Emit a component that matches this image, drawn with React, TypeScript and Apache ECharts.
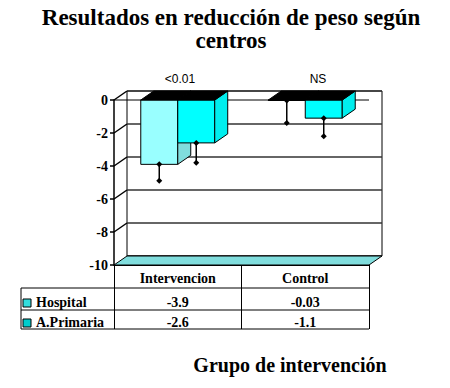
import React, { useEffect, useRef } from "react";
import * as echarts from "echarts";

const categories = ["Intervencion", "Control"];
const seriesNames = ["Hospital", "A.Primaria"];
const hospital = [-3.9, -0.03];
const primaria = [-2.6, -1.1];
const hospitalErr = [-4.9, -1.4];
const primariaErr = [-3.8, -2.2];
const pLabels = ["<0.01", "NS"];
const yTicks = [0, -2, -4, -6, -8, -10];

const DX = 13;
const DY = -9;
const SERIF = "Liberation Serif";
const SANS = "Liberation Sans";
const FRONT = ["#99FFFF", "#00FFFF"];
const SIDE = ["#80DDDD", "#00EEEE"];
const LEGEND = ["#33DDDD", "#00CCCC"];
const FLOOR = "#80DDDD";
const BAR_FRAC = 0.29;
const ROW_Y = [302, 322];

export default function App() {
  const ref = useRef<HTMLDivElement>(null);
  useEffect(() => {
    const chart = echarts.init(ref.current!, null, { renderer: "svg" });
    const values = [hospital, primaria];
    const errs = [hospitalErr, primariaErr];

    const barRender = (s: number) => (params: any, api: any) => {
      const cat = api.value(0);
      const v = api.value(1);
      const band = api.size([1, 0])[0];
      const bw = band * BAR_FRAC;
      const c0 = api.coord([cat, 0]);
      const c1 = api.coord([cat, v]);
      const xl = s === 0 ? c0[0] - bw : c0[0];
      const xr = xl + bw;
      const yt = c0[1];
      const yb = Math.max(c1[1], yt + 0.5);
      return {
        type: "group",
        children: [
          { type: "rect", shape: { x: xl, y: yt, width: bw, height: yb - yt }, style: { fill: FRONT[s], stroke: "#000", lineWidth: 1 } },
          { type: "polygon", shape: { points: [[xr, yt], [xr + DX, yt + DY], [xr + DX, yb + DY], [xr, yb]] }, style: { fill: SIDE[s], stroke: "#000", lineWidth: 1 } },
          { type: "polygon", shape: { points: [[xl, yt], [xr, yt], [xr + DX, yt + DY], [xl + DX, yt + DY]] }, style: { fill: "#000", stroke: "#000", lineWidth: 1 } },
        ],
      };
    };

    const errRender = (s: number) => (params: any, api: any) => {
      const cat = api.value(0);
      const v = api.value(1);
      const e = api.value(2);
      const band = api.size([1, 0])[0];
      const bw = band * BAR_FRAC;
      const c = api.coord([cat, v]);
      const ce = api.coord([cat, e]);
      const x = s === 0 ? c[0] - bw / 2 : c[0] + bw / 2;
      const dia = (y: number) => ({ type: "polygon", shape: { points: [[x, y - 3], [x + 3, y], [x, y + 3], [x - 3, y]] }, style: { fill: "#000" } });
      return {
        type: "group",
        children: [
          { type: "line", shape: { x1: x, y1: c[1], x2: x, y2: ce[1] }, style: { stroke: "#000", lineWidth: 1.5 } },
          dia(c[1]),
          dia(ce[1]),
        ],
      };
    };

    const frameRender = (params: any, api: any) => {
      const v = api.value(1);
      const cs = params.coordSys;
      const x0 = cs.x;
      const y = api.coord([0, v])[1];
      const children: any[] = [];
      if (v === -10) {
        children.push({
          type: "polygon",
          shape: { points: [[x0, y], [x0 + cs.width, y], [x0 + cs.width + DX, y + DY], [x0 + DX, y + DY]] },
          style: { fill: FLOOR, stroke: "#000", lineWidth: 1 },
        });
      } else {
        children.push({ type: "line", shape: { x1: x0, y1: y, x2: x0 + DX, y2: y + DY }, style: { stroke: "#000", lineWidth: 1.5 } });
      }
      if (v === 0) {
        children.push({ type: "line", shape: { x1: x0, y1: y, x2: x0 + cs.width, y2: y }, style: { stroke: "#000", lineWidth: 1 } });
      }
      return { type: "group", children };
    };

    const tableRender = (params: any, api: any) => {
      const cat = api.value(0);
      const v = api.value(1);
      const s = api.value(2);
      const x = api.coord([cat, 0])[0];
      return {
        type: "text",
        style: {
          text: String(v), x, y: ROW_Y[s], textAlign: "center", textVerticalAlign: "middle", align: "center", verticalAlign: "middle",
          fontFamily: SERIF, fontWeight: "bold", fontSize: 14, fill: "#000",
        },
      };
    };

    const series: any[] = [
      { type: "custom", name: "frame", xAxisIndex: 0, yAxisIndex: 0, renderItem: frameRender, data: yTicks.map((v) => [0, v]), silent: true },
    ];
    values.forEach((vals, s) => {
      series.push({ type: "custom", name: seriesNames[s], xAxisIndex: 0, yAxisIndex: 0, renderItem: barRender(s), data: vals.map((v, i) => [i, v]) });
    });
    values.forEach((vals, s) => {
      series.push({ type: "custom", name: seriesNames[s] + " err", xAxisIndex: 0, yAxisIndex: 0, renderItem: errRender(s), data: vals.map((v, i) => [i, v, errs[s][i]]) });
    });
    series.push({
      type: "custom", name: "table", xAxisIndex: 0, yAxisIndex: 0, renderItem: tableRender,
      data: values.flatMap((vals, s) => vals.map((v, i) => [i, v, s])),
    });

    const graphic: any[] = [
      {
        type: "text", x: 231, y: 6,
        style: {
          text: "Resultados en reducción de peso según\ncentros", textAlign: "center", align: "center", textVerticalAlign: "top", verticalAlign: "top",
          fontFamily: SERIF, fontWeight: "bold", fontSize: 23, lineHeight: 23, fill: "#000",
        },
      },
      {
        type: "text", x: 290, y: 365,
        style: {
          text: "Grupo de intervención", textAlign: "center", align: "center", textVerticalAlign: "middle", verticalAlign: "middle",
          fontFamily: SERIF, fontWeight: "bold", fontSize: 20, fill: "#000",
        },
      },
      { type: "text", x: 180, y: 79, style: { text: pLabels[0], textAlign: "center", align: "center", textVerticalAlign: "middle", verticalAlign: "middle", fontFamily: SANS, fontSize: 12, fill: "#000" } },
      { type: "text", x: 318, y: 79, style: { text: pLabels[1], textAlign: "center", align: "center", textVerticalAlign: "middle", verticalAlign: "middle", fontFamily: SANS, fontSize: 12, fill: "#000" } },
      { type: "line", shape: { x1: 21, y1: 288, x2: 369, y2: 288 }, style: { stroke: "#000", lineWidth: 1 } },
      { type: "line", shape: { x1: 21, y1: 310, x2: 369, y2: 310 }, style: { stroke: "#000", lineWidth: 1 } },
      { type: "line", shape: { x1: 21, y1: 329, x2: 369, y2: 329 }, style: { stroke: "#000", lineWidth: 1 } },
      { type: "line", shape: { x1: 21, y1: 288, x2: 21, y2: 329 }, style: { stroke: "#000", lineWidth: 1 } },
    ];
    seriesNames.forEach((name, s) => {
      graphic.push({ type: "rect", shape: { x: 23, y: ROW_Y[s] - 3, width: 8, height: 8 }, style: { fill: LEGEND[s], stroke: "#000", lineWidth: 1 } });
      graphic.push({
        type: "text", x: 36, y: ROW_Y[s],
        style: { text: name, textAlign: "left", align: "left", textVerticalAlign: "middle", verticalAlign: "middle", fontFamily: SERIF, fontWeight: "bold", fontSize: 14, fill: "#000" },
      });
    });

    chart.setOption({
      animation: false,
      backgroundColor: "#fff",
      grid: [
        { left: 114, top: 100, width: 255, height: 165, show: false },
        { left: 127, top: 91, width: 255, height: 165, show: true, borderColor: "#000", borderWidth: 1, backgroundColor: "#fff" },
      ],
      xAxis: [
        {
          type: "category", gridIndex: 0, data: categories, boundaryGap: true,
          axisLine: { show: true, onZero: false, lineStyle: { color: "#000", width: 1 } },
          axisTick: { show: true, length: 64, inside: false, lineStyle: { color: "#000", width: 1 } },
          axisLabel: { margin: 6, fontFamily: SERIF, fontWeight: "bold", fontSize: 14, color: "#000" },
          splitLine: { show: false },
        },
        { type: "category", gridIndex: 1, data: categories, show: false },
      ],
      yAxis: [
        {
          type: "value", gridIndex: 0, min: -10, max: 0, interval: 2,
          axisLine: { show: true, lineStyle: { color: "#000", width: 1.5 } },
          axisTick: { show: true, length: 4, lineStyle: { color: "#000", width: 1.5 } },
          axisLabel: { margin: 6, fontFamily: SERIF, fontWeight: "bold", fontSize: 14, color: "#000" },
          splitLine: { show: false },
        },
        {
          type: "value", gridIndex: 1, min: -10, max: 0, interval: 2,
          axisLine: { show: false }, axisTick: { show: false }, axisLabel: { show: false },
          splitLine: { show: true, lineStyle: { color: "#333", width: 1.5 } },
        },
      ],
      series,
      graphic,
    });
    return () => chart.dispose();
  }, []);
  return <div ref={ref} style={{ position: "fixed", left: 0, top: 0, width: 450, height: 388 }} />;
}
